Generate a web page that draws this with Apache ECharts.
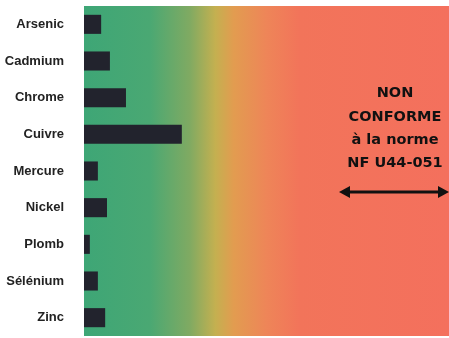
<!DOCTYPE html>
<html><head><meta charset="utf-8">
<script src="https://cdn.jsdelivr.net/npm/echarts@6/dist/echarts.min.js"></script>
<style>html,body{margin:0;padding:0;background:#fff}#c{width:449px;height:338px}</style>
</head><body><div id="c"></div>
<script>
const categories = ['Arsenic','Cadmium','Chrome','Cuivre','Mercure','Nickel','Plomb','Sélénium','Zinc'];
const values = [4.7, 7.1, 11.5, 26.8, 3.8, 6.3, 1.6, 3.8, 5.8];
const noteLines = ['NON','CONFORME','à la norme','NF U44-051'];

const chart = echarts.init(document.getElementById('c'));
const cx = 395;
const lineY = [93, 117, 140, 163];
const graphic = noteLines.map((t, i) => ({
  type: 'text', x: cx, y: lineY[i], z: 10,
  style: { text: t, align: 'center', verticalAlign: 'middle',
    font: 'bold 14.5px "DejaVu Sans"', fill: '#111' }
}));
// double arrow
graphic.push({ type: 'line', z: 10, shape: { x1: 346, y1: 192, x2: 443, y2: 192 }, style: { stroke: '#111', lineWidth: 3 } });
graphic.push({ type: 'polygon', z: 10, shape: { points: [[339,192],[350,186],[350,198]] }, style: { fill: '#111' } });
graphic.push({ type: 'polygon', z: 10, shape: { points: [[449,192],[438,186],[438,198]] }, style: { fill: '#111' } });

chart.setOption({
  animation: false,
  grid: {
    left: 84, right: 0, top: 6, bottom: 2, show: true, borderWidth: 0,
    backgroundColor: {
      type: 'linear', x: 0, y: 0, x2: 1, y2: 0,
      colorStops: [
        { offset: 0, color: '#3ea676' },
        { offset: 0.18, color: '#4aa873' },
        { offset: 0.29, color: '#80aa62' },
        { offset: 0.36, color: '#c4b050' },
        { offset: 0.41, color: '#e29c50' },
        { offset: 0.50, color: '#ee8558' },
        { offset: 0.59, color: '#f2745a' },
        { offset: 1, color: '#f4705d' }
      ]
    }
  },
  xAxis: { type: 'value', min: 0, max: 100, show: false, splitLine: { show: false } },
  yAxis: {
    type: 'category', data: categories, inverse: true,
    axisLine: { show: false }, axisTick: { show: false },
    axisLabel: { color: '#222', fontSize: 13, fontWeight: 'bold', fontFamily: 'Liberation Sans', margin: 20 }
  },
  series: [{
    type: 'bar', data: values, barWidth: '52%',
    itemStyle: { color: '#22232d' }
  }],
  graphic: graphic
});
</script></body></html>
